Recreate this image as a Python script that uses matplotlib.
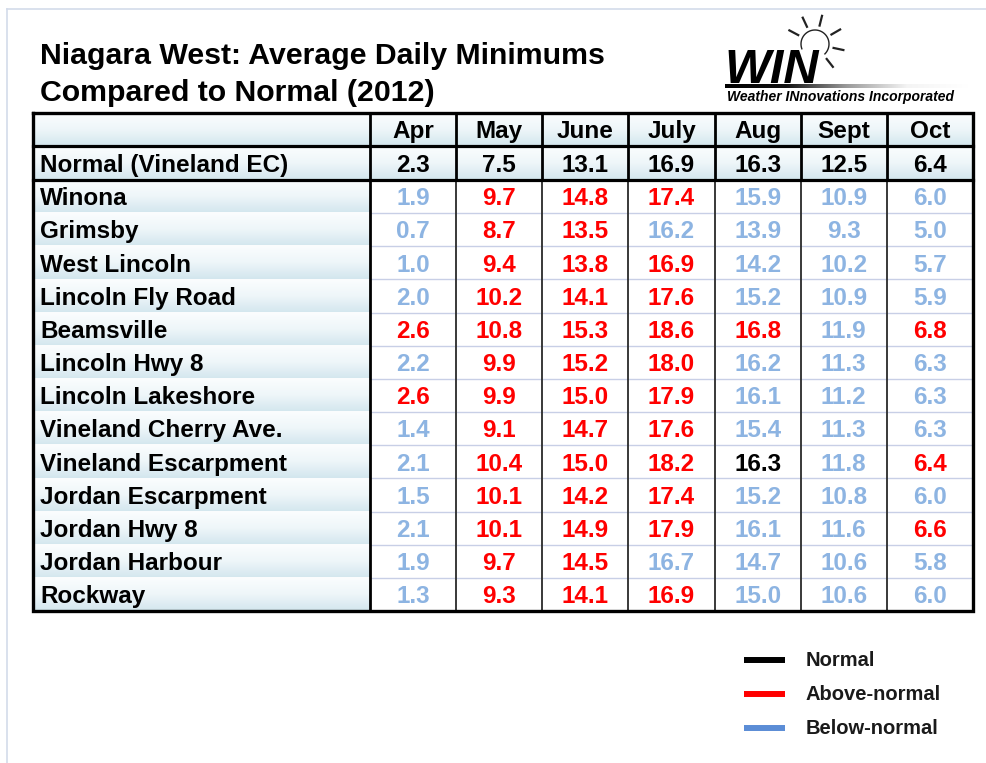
import matplotlib.pyplot as plt
import numpy as np
from matplotlib.colors import LinearSegmentedColormap

plt.rcParams["font.family"] = ["Liberation Sans", "DejaVu Sans"]

TITLE_LINES = ["Niagara West: Average Daily Minimums", "Compared to Normal (2012)"]
MONTHS = ["Apr", "May", "June", "July", "Aug", "Sept", "Oct"]
NORMAL_LABEL = "Normal (Vineland EC)"
NORMAL = [2.3, 7.5, 13.1, 16.9, 16.3, 12.5, 6.4]
STATIONS = [
    "Winona", "Grimsby", "West Lincoln", "Lincoln Fly Road", "Beamsville",
    "Lincoln Hwy 8", "Lincoln Lakeshore", "Vineland Cherry Ave.",
    "Vineland Escarpment", "Jordan Escarpment", "Jordan Hwy 8",
    "Jordan Harbour", "Rockway",
]
MINIMUMS = [
    [1.9, 9.7, 14.8, 17.4, 15.9, 10.9, 6.0],
    [0.7, 8.7, 13.5, 16.2, 13.9, 9.3, 5.0],
    [1.0, 9.4, 13.8, 16.9, 14.2, 10.2, 5.7],
    [2.0, 10.2, 14.1, 17.6, 15.2, 10.9, 5.9],
    [2.6, 10.8, 15.3, 18.6, 16.8, 11.9, 6.8],
    [2.2, 9.9, 15.2, 18.0, 16.2, 11.3, 6.3],
    [2.6, 9.9, 15.0, 17.9, 16.1, 11.2, 6.3],
    [1.4, 9.1, 14.7, 17.6, 15.4, 11.3, 6.3],
    [2.1, 10.4, 15.0, 18.2, 16.3, 11.8, 6.4],
    [1.5, 10.1, 14.2, 17.4, 15.2, 10.8, 6.0],
    [2.1, 10.1, 14.9, 17.9, 16.1, 11.6, 6.6],
    [1.9, 9.7, 14.5, 16.7, 14.7, 10.6, 5.8],
    [1.3, 9.3, 14.1, 16.9, 15.0, 10.6, 6.0],
]
# A = above normal, B = below normal, N = normal (as coloured in the source)
CATEGORY = [
    "BAAABBB", "BAABBBB", "BAAABBB", "BAAABBB", "AAAAABA", "BAAABBB", "AAAABBB",
    "BAAABBB", "BAAANBA", "BAAABBB", "BAAABBA", "BAABBBB", "BAAABBB",
]
LEGEND_LABELS = ["Normal", "Above-normal", "Below-normal"]
LEGEND_KEYS = ["N", "A", "B"]

TEXT_COLORS = {"A": "#ff0000", "B": "#8db4e2", "N": "#000000"}
LINE_COLORS = {"A": "#ff0000", "B": "#5b8dd6", "N": "#000000"}

W, H = 987, 763
LEFT, NAME_RIGHT, RIGHT = 33, 370, 973
TOP, HEAD_BOT, NORM_BOT, BOTTOM = 113, 146, 180, 611
FS = 17.5

cell_cmap = LinearSegmentedColormap.from_list("cell", ["#fbfdfe", "#eef6f9", "#d3e6ee"])
bar_cmap = LinearSegmentedColormap.from_list("bar", ["#000000", "#111111", "#9a9a9a", "#f4f4f4", "#ffffff"])
vgrad = np.linspace(0, 1, 64)[:, None]


def shade(ax, x0, x1, y0, y1):
    ax.imshow(vgrad, cmap=cell_cmap, extent=[x0, x1, y1, y0], aspect="auto",
              interpolation="bilinear", zorder=1)


fig = plt.figure(figsize=(W / 100, H / 100), dpi=100)
ax = fig.add_axes([0, 0, 1, 1])

# slide frame
ax.plot([7, W], [9, 9], color="#d3dbea", lw=1.2, zorder=2)
ax.plot([7, 7], [9, H], color="#d3dbea", lw=1.2, zorder=2)

# title
for i, line in enumerate(TITLE_LINES):
    ax.text(40, 64 + i * 37, line, fontsize=21.8, fontweight="bold", va="baseline", ha="left")

# logo
ax.text(724, 83, "WIN", fontsize=35, fontweight="bold", fontstyle="italic",
        va="baseline", ha="left", color="#000000")
cx, cy, r = 815, 44, 14
ang = np.radians(np.linspace(-45, 200, 60))
ax.plot(cx + r * np.cos(ang), cy - r * np.sin(ang), color="#222222", lw=1.0)
for a in [152, 115, 76, 30, -12, -52]:
    t = np.radians(a)
    ax.plot([cx + 19 * np.cos(t), cx + 29 * np.cos(t)],
            [cy - 19 * np.sin(t), cy - 29 * np.sin(t)], color="#222222", lw=1.6)
ax.imshow(np.linspace(0, 1, 256)[None, :], cmap=bar_cmap, extent=[725, 968, 88.5, 85],
          aspect="auto", interpolation="bilinear", zorder=1)
ax.text(727, 101, "Weather INnovations Incorporated", fontsize=10, fontweight="bold",
        fontstyle="italic", va="baseline", ha="left")

# table geometry
n_rows = len(STATIONS)
col_w = (RIGHT - NAME_RIGHT) / len(MONTHS)
row_h = (BOTTOM - NORM_BOT) / n_rows
col_x = [NAME_RIGHT + j * col_w for j in range(len(MONTHS) + 1)]
row_y = [NORM_BOT + i * row_h for i in range(n_rows + 1)]

# shaded cells: header row, normal row, station names
for y0, y1 in [(TOP, HEAD_BOT), (HEAD_BOT, NORM_BOT)]:
    shade(ax, LEFT, NAME_RIGHT, y0, y1)
    for j in range(len(MONTHS)):
        shade(ax, col_x[j], col_x[j + 1], y0, y1)
for i in range(n_rows):
    shade(ax, LEFT, NAME_RIGHT, row_y[i], row_y[i + 1])

# header text
for j, m in enumerate(MONTHS):
    xc = (col_x[j] + col_x[j + 1]) / 2
    ax.text(xc, (TOP + HEAD_BOT) / 2 + 8.7, m, fontsize=FS, fontweight="bold",
            ha="center", va="baseline", zorder=5)
    ax.text(xc, (HEAD_BOT + NORM_BOT) / 2 + 8.7, f"{NORMAL[j]:.1f}", fontsize=FS,
            fontweight="bold", ha="center", va="baseline", zorder=5)
ax.text(40, (HEAD_BOT + NORM_BOT) / 2 + 8.7, NORMAL_LABEL, fontsize=FS,
        fontweight="bold", ha="left", va="baseline", zorder=5)

# station rows
for i, name in enumerate(STATIONS):
    yb = (row_y[i] + row_y[i + 1]) / 2 + 8.7
    ax.text(40, yb, name, fontsize=FS, fontweight="bold", ha="left", va="baseline", zorder=5)
    for j, v in enumerate(MINIMUMS[i]):
        xc = (col_x[j] + col_x[j + 1]) / 2
        ax.text(xc, yb, f"{v:.1f}", fontsize=FS, fontweight="bold",
                color=TEXT_COLORS[CATEGORY[i][j]], ha="center", va="baseline", zorder=5)

# grid lines
for y in row_y[1:-1]:
    ax.plot([NAME_RIGHT, RIGHT], [y, y], color="#c8cfe6", lw=1.0, zorder=3)
for x in col_x[1:-1]:
    ax.plot([x, x], [NORM_BOT, BOTTOM], color="#2a2a2a", lw=1.3, zorder=4)
    ax.plot([x, x], [TOP, NORM_BOT], color="#000000", lw=2.0, zorder=4)
ax.plot([NAME_RIGHT, NAME_RIGHT], [TOP, BOTTOM], color="#000000", lw=2.0, zorder=4)
for y in [HEAD_BOT, NORM_BOT]:
    ax.plot([LEFT, RIGHT], [y, y], color="#000000", lw=2.3, zorder=4)
ax.plot([LEFT, RIGHT, RIGHT, LEFT, LEFT], [TOP, TOP, BOTTOM, BOTTOM, TOP],
        color="#000000", lw=2.4, zorder=6, solid_joinstyle="miter")

# legend
for k, (lab, key) in enumerate(zip(LEGEND_LABELS, LEGEND_KEYS)):
    y = 660 + k * 34
    ax.plot([744, 785], [y, y], color=LINE_COLORS[key], lw=4.3, solid_capstyle="butt")
    ax.text(806, y, lab, fontsize=14.5, fontweight="bold", color="#1a1a1a",
            ha="left", va="center")

ax.set_xlim(0, W)
ax.set_ylim(H, 0)
ax.axis("off")
fig.savefig("out.png", dpi=100)
